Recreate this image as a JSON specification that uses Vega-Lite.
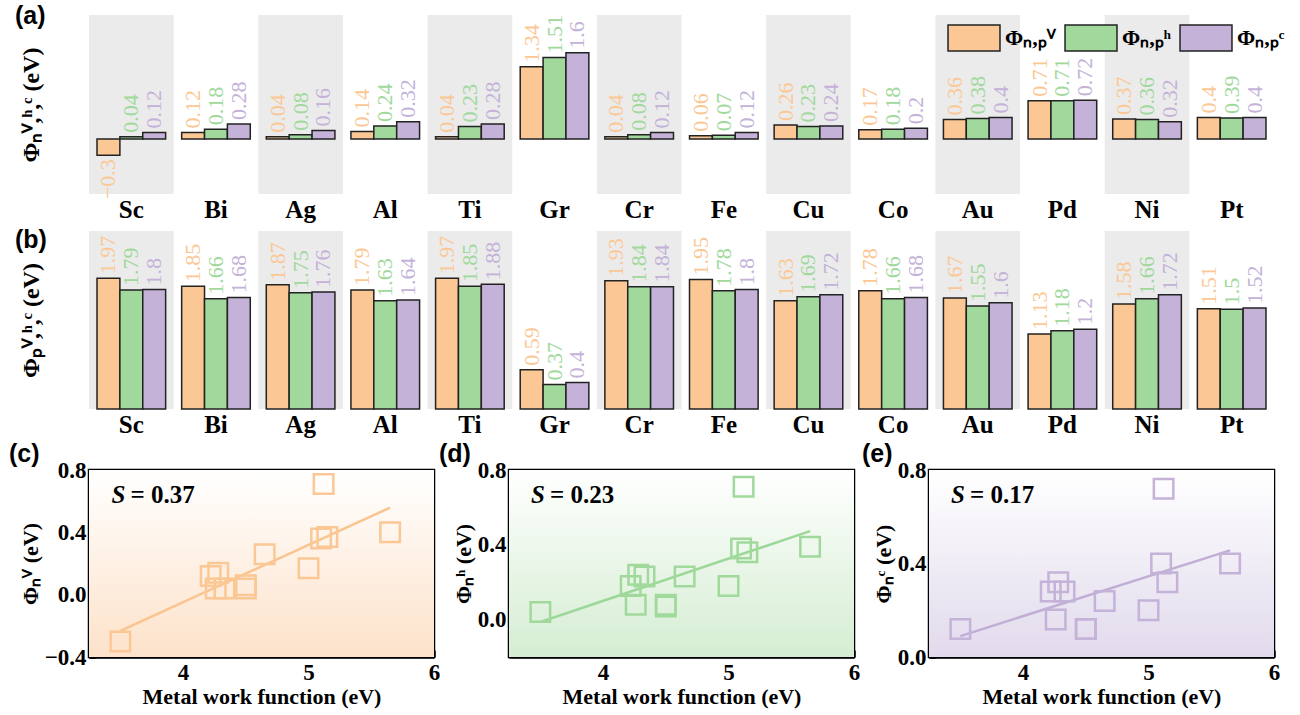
{
  "$schema": "https://vega.github.io/schema/vega-lite/v6.json",
  "background": "white",
  "padding": {"left": 7, "top": 4, "right": 5, "bottom": 2},
  "config": {
    "view": {"stroke": null},
    "font": "Liberation Serif",
    "axis": {"grid": false, "labelColor": "black", "titleColor": "black"},
    "text": {"font": "Liberation Serif"}
  },
  "datasets": {
    "metals": [
      {"metal": "Sc", "type": "V", "wf": 3.5, "n": -0.3, "p": 1.97},
      {"metal": "Sc", "type": "h", "wf": 3.5, "n": 0.04, "p": 1.79},
      {"metal": "Sc", "type": "C", "wf": 3.5, "n": 0.12, "p": 1.8},
      {"metal": "Bi", "type": "V", "wf": 4.22, "n": 0.12, "p": 1.85},
      {"metal": "Bi", "type": "h", "wf": 4.22, "n": 0.18, "p": 1.66},
      {"metal": "Bi", "type": "C", "wf": 4.22, "n": 0.28, "p": 1.68},
      {"metal": "Ag", "type": "V", "wf": 4.26, "n": 0.04, "p": 1.87},
      {"metal": "Ag", "type": "h", "wf": 4.26, "n": 0.08, "p": 1.75},
      {"metal": "Ag", "type": "C", "wf": 4.26, "n": 0.16, "p": 1.76},
      {"metal": "Al", "type": "V", "wf": 4.28, "n": 0.14, "p": 1.79},
      {"metal": "Al", "type": "h", "wf": 4.28, "n": 0.24, "p": 1.63},
      {"metal": "Al", "type": "C", "wf": 4.28, "n": 0.32, "p": 1.64},
      {"metal": "Ti", "type": "V", "wf": 4.33, "n": 0.04, "p": 1.97},
      {"metal": "Ti", "type": "h", "wf": 4.33, "n": 0.23, "p": 1.85},
      {"metal": "Ti", "type": "C", "wf": 4.33, "n": 0.28, "p": 1.88},
      {"metal": "Gr", "type": "V", "wf": null, "n": 1.34, "p": 0.59},
      {"metal": "Gr", "type": "h", "wf": null, "n": 1.51, "p": 0.37},
      {"metal": "Gr", "type": "C", "wf": null, "n": 1.6, "p": 0.4},
      {"metal": "Cr", "type": "V", "wf": 4.5, "n": 0.04, "p": 1.93},
      {"metal": "Cr", "type": "h", "wf": 4.5, "n": 0.08, "p": 1.84},
      {"metal": "Cr", "type": "C", "wf": 4.5, "n": 0.12, "p": 1.84},
      {"metal": "Fe", "type": "V", "wf": 4.5, "n": 0.06, "p": 1.95},
      {"metal": "Fe", "type": "h", "wf": 4.5, "n": 0.07, "p": 1.78},
      {"metal": "Fe", "type": "C", "wf": 4.5, "n": 0.12, "p": 1.8},
      {"metal": "Cu", "type": "V", "wf": 4.65, "n": 0.26, "p": 1.63},
      {"metal": "Cu", "type": "h", "wf": 4.65, "n": 0.23, "p": 1.69},
      {"metal": "Cu", "type": "C", "wf": 4.65, "n": 0.24, "p": 1.72},
      {"metal": "Co", "type": "V", "wf": 5.0, "n": 0.17, "p": 1.78},
      {"metal": "Co", "type": "h", "wf": 5.0, "n": 0.18, "p": 1.66},
      {"metal": "Co", "type": "C", "wf": 5.0, "n": 0.2, "p": 1.68},
      {"metal": "Au", "type": "V", "wf": 5.1, "n": 0.36, "p": 1.67},
      {"metal": "Au", "type": "h", "wf": 5.1, "n": 0.38, "p": 1.55},
      {"metal": "Au", "type": "C", "wf": 5.1, "n": 0.4, "p": 1.6},
      {"metal": "Pd", "type": "V", "wf": 5.12, "n": 0.71, "p": 1.13},
      {"metal": "Pd", "type": "h", "wf": 5.12, "n": 0.71, "p": 1.18},
      {"metal": "Pd", "type": "C", "wf": 5.12, "n": 0.72, "p": 1.2},
      {"metal": "Ni", "type": "V", "wf": 5.15, "n": 0.37, "p": 1.58},
      {"metal": "Ni", "type": "h", "wf": 5.15, "n": 0.36, "p": 1.66},
      {"metal": "Ni", "type": "C", "wf": 5.15, "n": 0.32, "p": 1.72},
      {"metal": "Pt", "type": "V", "wf": 5.65, "n": 0.4, "p": 1.51},
      {"metal": "Pt", "type": "h", "wf": 5.65, "n": 0.39, "p": 1.5},
      {"metal": "Pt", "type": "C", "wf": 5.65, "n": 0.4, "p": 1.52}
    ]
  },
  "spacing": 3,
  "resolve": {"scale": {"color": "independent"}, "legend": {"color": "independent"}},
  "vconcat": [
    {
      "spacing": 6,
      "resolve": {"scale": {"color": "independent"}, "legend": {"color": "independent"}},
      "vconcat": [
        {
          "width": 1185,
          "height": 179,
          "title": {"text": "(a)", "anchor": "start", "frame": "group", "dx": -74, "offset": -38, "baseline": "alphabetic", "font": "Liberation Sans", "fontSize": 25, "fontWeight": "bold", "color": "black"},
          "data": {"name": "metals"},
          "encoding": {
            "x": {"field": "metal", "type": "nominal", "scale": {"domain": ["Sc","Bi","Ag","Al","Ti","Gr","Cr","Fe","Cu","Co","Au","Pd","Ni","Pt"], "paddingInner": 0, "paddingOuter": 0},
              "axis": {"title": null, "domain": false, "ticks": false, "labelAngle": 0, "labelFont": "Liberation Serif", "labelFontSize": 25, "labelFontWeight": "bold", "labelPadding": 3}},
            "y": {"field": "n", "type": "quantitative", "scale": {"domain": [-1.02, 2.3], "nice": false, "zero": false},
              "axis": {"title": "Φₙⱽ,ʰ,ᶜ (eV)", "labels": false, "ticks": false, "domain": false, "titleFont": "Liberation Serif", "titleFontSize": 24, "titleFontWeight": "bold", "titlePadding": 46}}
          },
          "layer": [
            {
              "transform": [{"filter": "datum.type === 'V'"}, {"filter": {"field": "metal", "oneOf": ["Sc","Ag","Ti","Cr","Cu","Au","Ni"]}}],
              "mark": {"type": "bar", "fill": "#EBEBEB"},
              "encoding": {"y": {"datum": 2.3, "type": "quantitative"}, "y2": {"datum": -1.02}}
            },
            {
              "mark": {"type": "bar", "stroke": "#222222", "strokeWidth": 1.5},
              "encoding": {
                "xOffset": {"field": "type", "type": "nominal", "scale": {"domain": ["V","h","C"], "paddingInner": 0, "paddingOuter": 0.35}},
                "color": {"field": "type", "type": "nominal", "scale": {"domain": ["V","h","C"], "range": ["#FBC895","#A1D99C","#C4B2D8"]},
                  "legend": {"orient": "none", "legendX": 858, "legendY": -4, "direction": "horizontal", "title": null,
                    "symbolType": "M-1,-0.5H1V0.5H-1Z", "symbolSize": 2700, "symbolStrokeColor": "#222222", "symbolStrokeWidth": 1.5, "symbolOpacity": 1,
                    "labelFont": "Liberation Serif", "labelFontSize": 22, "labelFontWeight": "bold", "labelColor": "black", "labelOffset": 4, "columnPadding": 6,
                    "labelExpr": "datum.label === 'V' ? 'Φₙ,ₚⱽ' : datum.label === 'h' ? 'Φₙ,ₚʰ' : 'Φₙ,ₚᶜ'"}}
              }
            },
            {
              "transform": [{"filter": "datum.n >= 0"}],
              "mark": {"type": "text", "angle": 270, "align": "left", "baseline": "middle", "dx": 4, "fontSize": 22},
              "encoding": {
                "xOffset": {"field": "type", "type": "nominal"},
                "text": {"field": "n", "type": "quantitative"},
                "color": {"field": "type", "type": "nominal"}
              }
            },
            {
              "transform": [{"filter": "datum.n < 0"}],
              "mark": {"type": "text", "angle": 270, "align": "right", "baseline": "middle", "dx": -4, "fontSize": 22},
              "encoding": {
                "xOffset": {"field": "type", "type": "nominal"},
                "text": {"field": "n", "type": "quantitative"},
                "color": {"field": "type", "type": "nominal"}
              }
            }
          ]
        },
        {
          "width": 1185,
          "height": 178,
          "title": {"text": "(b)", "anchor": "start", "frame": "group", "dx": -74, "offset": -42, "baseline": "alphabetic", "font": "Liberation Sans", "fontSize": 25, "fontWeight": "bold", "color": "black"},
          "data": {"name": "metals"},
          "encoding": {
            "x": {"field": "metal", "type": "nominal", "scale": {"domain": ["Sc","Bi","Ag","Al","Ti","Gr","Cr","Fe","Cu","Co","Au","Pd","Ni","Pt"], "paddingInner": 0, "paddingOuter": 0},
              "axis": {"title": null, "domain": false, "ticks": false, "labelAngle": 0, "labelFont": "Liberation Serif", "labelFontSize": 25, "labelFontWeight": "bold", "labelPadding": 3}},
            "y": {"field": "p", "type": "quantitative", "scale": {"domain": [0, 2.68], "nice": false},
              "axis": {"title": "Φₚⱽ,ʰ,ᶜ (eV)", "labels": false, "ticks": false, "domain": false, "titleFont": "Liberation Serif", "titleFontSize": 24, "titleFontWeight": "bold", "titlePadding": 46}}
          },
          "layer": [
            {
              "transform": [{"filter": "datum.type === 'V'"}, {"filter": {"field": "metal", "oneOf": ["Sc","Ag","Ti","Cr","Cu","Au","Ni"]}}],
              "mark": {"type": "bar", "fill": "#EBEBEB"},
              "encoding": {"y": {"datum": 2.68, "type": "quantitative"}, "y2": {"datum": 0}}
            },
            {
              "mark": {"type": "bar", "stroke": "#222222", "strokeWidth": 1.5},
              "encoding": {
                "xOffset": {"field": "type", "type": "nominal", "scale": {"domain": ["V","h","C"], "paddingInner": 0, "paddingOuter": 0.35}},
                "color": {"field": "type", "type": "nominal", "scale": {"domain": ["V","h","C"], "range": ["#FBC895","#A1D99C","#C4B2D8"]}, "legend": null}
              }
            },
            {
              "mark": {"type": "text", "angle": 270, "align": "left", "baseline": "middle", "dx": 4, "fontSize": 22},
              "encoding": {
                "xOffset": {"field": "type", "type": "nominal"},
                "text": {"field": "p", "type": "quantitative"},
                "color": {"field": "type", "type": "nominal", "legend": null}
              }
            }
          ]
        }
      ]
    },
    {
      "bounds": "flush",
      "spacing": 75,
      "hconcat": [
        {
          "width": 345,
          "height": 187,
          "view": {"stroke": "black", "strokeWidth": 2.5},
          "title": {"text": "(c)", "anchor": "start", "frame": "group", "dx": -80, "offset": -28, "baseline": "alphabetic", "font": "Liberation Sans", "fontSize": 25, "fontWeight": "bold", "color": "black"},
          "data": {"name": "metals"},
          "transform": [{"filter": "datum.type === 'V' && datum.wf != null"}],
          "encoding": {
            "x": {"field": "wf", "type": "quantitative", "scale": {"domain": [3.25, 6], "nice": false, "zero": false},
              "axis": {"title": "Metal work function (eV)", "values": [4, 5, 6], "format": "d", "tickSize": -7, "tickWidth": 2.5, "tickColor": "black", "domainColor": "black", "domainWidth": 2.5, "labelFlush": false, "labelOverlap": false, "labelFont": "Liberation Serif", "labelFontSize": 23, "labelFontWeight": "bold", "labelPadding": 11, "titleFont": "Liberation Serif", "titleFontSize": 22, "titleFontWeight": "bold", "titlePadding": 2}},
            "y": {"field": "n", "type": "quantitative", "scale": {"domain": [-0.4, 0.8], "nice": false, "zero": false},
              "axis": {"title": "Φₙⱽ (eV)", "values": [-0.4, 0, 0.4, 0.8], "format": ".1f", "tickSize": -7, "tickWidth": 2.5, "tickColor": "black", "domainColor": "black", "domainWidth": 2.5, "labelFlush": false, "labelOverlap": false, "labelFont": "Liberation Serif", "labelFontSize": 23, "labelFontWeight": "bold", "labelPadding": 10, "titleFont": "Liberation Serif", "titleFontSize": 22, "titleFontWeight": "bold", "titlePadding": 2}}
          },
          "layer": [
            {
              "transform": [{"filter": "datum.metal === 'Sc'"}],
              "mark": {"type": "rect", "fill": {"gradient": "linear", "x1": 0, "y1": 0, "x2": 0, "y2": 1, "stops": [{"offset": 0, "color": "#FFFFFF"}, {"offset": 1, "color": "#FDE2CA"}]}},
              "encoding": {"x": {"datum": 3.25}, "x2": {"datum": 6}, "y": {"datum": 0.8}, "y2": {"datum": -0.4}}
            },
            {
              "transform": [{"regression": "n", "on": "wf", "extent": [3.5, 5.65]}],
              "mark": {"type": "line", "color": "#FBC48F", "strokeWidth": 2.5}
            },
            {
              "mark": {"type": "point", "shape": "square", "filled": false, "size": 380, "strokeWidth": 2.5, "color": "#FBC895", "opacity": 1}
            },
            {
              "transform": [{"filter": "datum.metal === 'Sc'"}],
              "mark": {"type": "text", "text": "S", "fontStyle": "italic", "fontWeight": "bold", "fontSize": 25, "align": "left", "baseline": "middle", "color": "black"},
              "encoding": {"x": {"datum": 3.43}, "y": {"datum": 0.64}}
            },
            {
              "transform": [{"filter": "datum.metal === 'Sc'"}],
              "mark": {"type": "text", "text": "= 0.37", "fontWeight": "bold", "fontSize": 25, "align": "left", "baseline": "middle", "dx": 19, "color": "black"},
              "encoding": {"x": {"datum": 3.43}, "y": {"datum": 0.64}}
            }
          ]
        },
        {
          "width": 345,
          "height": 187,
          "view": {"stroke": "black", "strokeWidth": 2.5},
          "title": {"text": "(d)", "anchor": "start", "frame": "group", "dx": -70, "offset": -28, "baseline": "alphabetic", "font": "Liberation Sans", "fontSize": 25, "fontWeight": "bold", "color": "black"},
          "data": {"name": "metals"},
          "transform": [{"filter": "datum.type === 'h' && datum.wf != null"}],
          "encoding": {
            "x": {"field": "wf", "type": "quantitative", "scale": {"domain": [3.25, 6], "nice": false, "zero": false},
              "axis": {"title": "Metal work function (eV)", "values": [4, 5, 6], "format": "d", "tickSize": -7, "tickWidth": 2.5, "tickColor": "black", "domainColor": "black", "domainWidth": 2.5, "labelFlush": false, "labelOverlap": false, "labelFont": "Liberation Serif", "labelFontSize": 23, "labelFontWeight": "bold", "labelPadding": 11, "titleFont": "Liberation Serif", "titleFontSize": 22, "titleFontWeight": "bold", "titlePadding": 2}},
            "y": {"field": "n", "type": "quantitative", "scale": {"domain": [-0.2, 0.8], "nice": false, "zero": false},
              "axis": {"title": "Φₙʰ (eV)", "values": [0, 0.4, 0.8], "format": ".1f", "tickSize": -7, "tickWidth": 2.5, "tickColor": "black", "domainColor": "black", "domainWidth": 2.5, "labelFlush": false, "labelOverlap": false, "labelFont": "Liberation Serif", "labelFontSize": 23, "labelFontWeight": "bold", "labelPadding": 10, "titleFont": "Liberation Serif", "titleFontSize": 22, "titleFontWeight": "bold", "titlePadding": 2}}
          },
          "layer": [
            {
              "transform": [{"filter": "datum.metal === 'Sc'"}],
              "mark": {"type": "rect", "fill": {"gradient": "linear", "x1": 0, "y1": 0, "x2": 0, "y2": 1, "stops": [{"offset": 0, "color": "#FFFFFF"}, {"offset": 1, "color": "#D5EDD2"}]}},
              "encoding": {"x": {"datum": 3.25}, "x2": {"datum": 6}, "y": {"datum": 0.8}, "y2": {"datum": -0.2}}
            },
            {
              "transform": [{"regression": "n", "on": "wf", "extent": [3.5, 5.65]}],
              "mark": {"type": "line", "color": "#9ED79A", "strokeWidth": 2.5}
            },
            {
              "mark": {"type": "point", "shape": "square", "filled": false, "size": 380, "strokeWidth": 2.5, "color": "#A1D99C", "opacity": 1}
            },
            {
              "transform": [{"filter": "datum.metal === 'Sc'"}],
              "mark": {"type": "text", "text": "S", "fontStyle": "italic", "fontWeight": "bold", "fontSize": 25, "align": "left", "baseline": "middle", "color": "black"},
              "encoding": {"x": {"datum": 3.425}, "y": {"datum": 0.666}}
            },
            {
              "transform": [{"filter": "datum.metal === 'Sc'"}],
              "mark": {"type": "text", "text": "= 0.23", "fontWeight": "bold", "fontSize": 25, "align": "left", "baseline": "middle", "dx": 19, "color": "black"},
              "encoding": {"x": {"datum": 3.425}, "y": {"datum": 0.666}}
            }
          ]
        },
        {
          "width": 345,
          "height": 187,
          "view": {"stroke": "black", "strokeWidth": 2.5},
          "title": {"text": "(e)", "anchor": "start", "frame": "group", "dx": -67, "offset": -28, "baseline": "alphabetic", "font": "Liberation Sans", "fontSize": 25, "fontWeight": "bold", "color": "black"},
          "data": {"name": "metals"},
          "transform": [{"filter": "datum.type === 'C' && datum.wf != null"}],
          "encoding": {
            "x": {"field": "wf", "type": "quantitative", "scale": {"domain": [3.25, 6], "nice": false, "zero": false},
              "axis": {"title": "Metal work function (eV)", "values": [4, 5, 6], "format": "d", "tickSize": -7, "tickWidth": 2.5, "tickColor": "black", "domainColor": "black", "domainWidth": 2.5, "labelFlush": false, "labelOverlap": false, "labelFont": "Liberation Serif", "labelFontSize": 23, "labelFontWeight": "bold", "labelPadding": 11, "titleFont": "Liberation Serif", "titleFontSize": 22, "titleFontWeight": "bold", "titlePadding": 2}},
            "y": {"field": "n", "type": "quantitative", "scale": {"domain": [0, 0.8], "nice": false, "zero": false},
              "axis": {"title": "Φₙᶜ (eV)", "values": [0, 0.4, 0.8], "format": ".1f", "tickSize": -7, "tickWidth": 2.5, "tickColor": "black", "domainColor": "black", "domainWidth": 2.5, "labelFlush": false, "labelOverlap": false, "labelFont": "Liberation Serif", "labelFontSize": 23, "labelFontWeight": "bold", "labelPadding": 10, "titleFont": "Liberation Serif", "titleFontSize": 22, "titleFontWeight": "bold", "titlePadding": 2}}
          },
          "layer": [
            {
              "transform": [{"filter": "datum.metal === 'Sc'"}],
              "mark": {"type": "rect", "fill": {"gradient": "linear", "x1": 0, "y1": 0, "x2": 0, "y2": 1, "stops": [{"offset": 0, "color": "#FFFFFF"}, {"offset": 1, "color": "#E1DAEC"}]}},
              "encoding": {"x": {"datum": 3.25}, "x2": {"datum": 6}, "y": {"datum": 0.8}, "y2": {"datum": 0}}
            },
            {
              "transform": [{"regression": "n", "on": "wf", "extent": [3.5, 5.65]}],
              "mark": {"type": "line", "color": "#C0AED6", "strokeWidth": 2.5}
            },
            {
              "mark": {"type": "point", "shape": "square", "filled": false, "size": 380, "strokeWidth": 2.5, "color": "#C4B2D8", "opacity": 1}
            },
            {
              "transform": [{"filter": "datum.metal === 'Sc'"}],
              "mark": {"type": "text", "text": "S", "fontStyle": "italic", "fontWeight": "bold", "fontSize": 25, "align": "left", "baseline": "middle", "color": "black"},
              "encoding": {"x": {"datum": 3.425}, "y": {"datum": 0.693}}
            },
            {
              "transform": [{"filter": "datum.metal === 'Sc'"}],
              "mark": {"type": "text", "text": "= 0.17", "fontWeight": "bold", "fontSize": 25, "align": "left", "baseline": "middle", "dx": 19, "color": "black"},
              "encoding": {"x": {"datum": 3.425}, "y": {"datum": 0.693}}
            }
          ]
        }
      ]
    }
  ]
}
